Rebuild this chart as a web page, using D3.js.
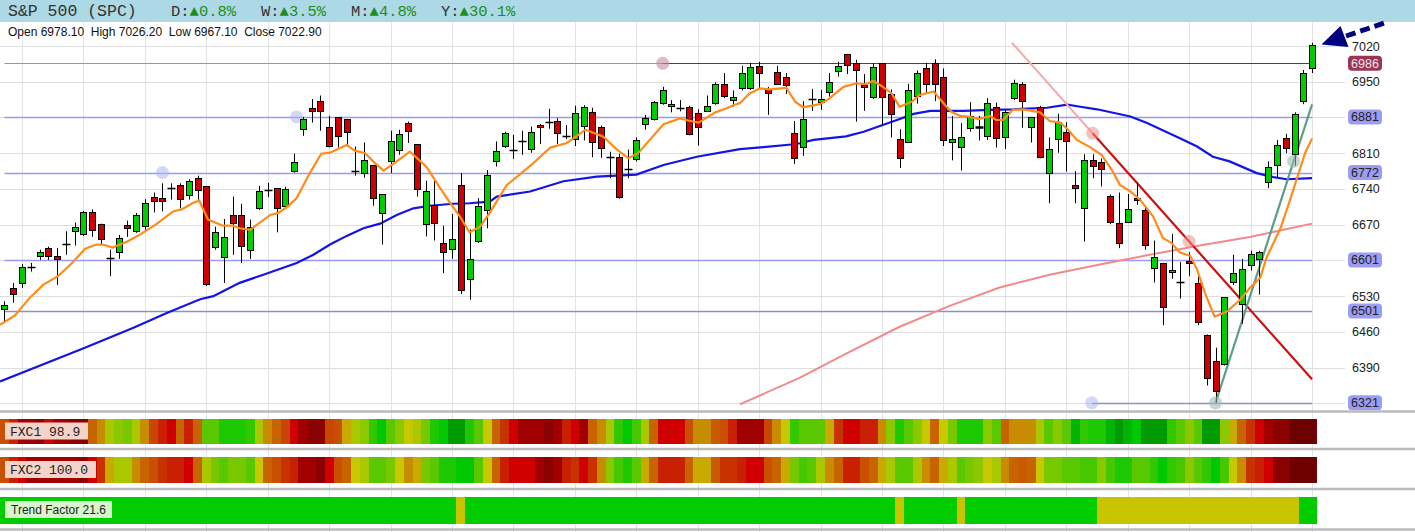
<!DOCTYPE html>
<html><head><meta charset="utf-8">
<script src="https://cdn.jsdelivr.net/npm/d3@7"></script>
<style>body{margin:0;background:#fff;overflow:hidden}svg{display:block}</style>
</head><body><svg id="c" width="1415" height="532"></svg>
<script>
// ---------------- DATA ----------------
const open=[6505,6546,6556,6587,6608,6624,6608,6631,6657,6652,
6695,6672,6605,6617,6669,6657,6666,6725,6722,6740,
6747,6728,6761,6746,6625,6607,6689,6689,6619,6702,
6738,6742,6706,6774,6857,6898,6912,6861,6880,6877,
6775,6772,6787,6693,6794,6816,6869,6828,6671,6709,
6634,6622,6747,6563,6639,6700,6796,6823,6815,6833,
6818,6865,6871,6873,6842,6837,6863,6890,6862,6803,
6802,6778,6798,6867,6877,6908,6902,6899,6900,6888,
6893,6909,6946,6916,6937,6937,6981,6936,6970,6959,
6849,6822,6916,6911,6931,6970,7004,6986,6944,6920,
6986,6926,6837,6833,6921,6976,6986,6959,6833,6822,
6859,6859,6844,6901,6841,6918,6945,6861,6901,6771,
6837,6851,6748,6702,6797,6792,6726,6673,6676,6723,
6698,6585,6595,6578,6557,6599,6556,6454,6403,6397,
6558,6515,6591,6603,6754,6787,6839,6808,6914,6978.1];
const close=[6513,6534,6587,6588,6616,6609,6603,6632,6665,6695,
6660,6642,6604,6644,6664,6689,6712,6718,6717,6741,
6719,6756,6738,6554,6655,6646,6673,6629,6665,6736,
6738.5,6702,6740,6792,6877,6893,6893,6823,6842,6852,
6776,6797,6723,6730,6834,6847,6854,6740,6736,6674,
6617,6642,6541,6603,6707,6768,6815,6849,6816,6834,
6851,6861,6872,6849,6843,6888,6901,6832,6820,6802.5,
6724,6778.5,6836,6878,6910,6933,6906,6899.5,6848,6861,
6903,6946,6923,6921,6967,6978,6967,6929,6947,6943,
6800,6877,6916.5,6916,6950,6980,6983,6973,6940,6978,
6920,6886,6800,6934,6967,6945,6945,6836,6838,6842,
6882,6862,6909,6841,6890,6947,6911,6880,6803,6818,
6871,6834,6742,6797,6785,6779,6675,6634,6701,6719,
6629,6606,6509,6582,6557.5,6595,6479,6370,6344,6528,
6575,6583,6612,6616,6783,6826,6820,6887,6968,7022.9];
const high=[6520,6556,6593,6595,6621,6627,6624,6657,6674,6697,
6700,6672,6621,6650,6678,6693,6720,6733,6751,6751,
6751,6759,6766,6746,6666,6681,6725,6711,6680,6746,
6752,6742,6744,6809,6881,6916,6923,6883,6881,6877,
6823,6831,6787,6730,6854,6856,6872,6828,6756,6756,
6668,6691,6771,6661,6722,6777,6833,6852,6846,6854,
6862,6867,6897,6879,6865,6903,6904,6899,6864,6813,
6809,6817,6841,6885,6912,6940,6914,6914,6903,6896,
6923,6949,6967,6933,6981,6987,6989,6940,6981,6967,
6873,6912,6936,6934,6967,6989,7004,6993,6965,6986,
6986,6935,6857,6946,6972,6987,6994,6976,6883,6869,
6910,6883,6918,6909,6895,6954,6949,6881,6903,6841,
6887,6871,6775,6808,6808,6800,6729,6733,6730,6753,
6706,6639,6595,6652,6597,6616,6574,6455,6429,6528,
6611,6603,6619,6619,6794,6836,6848,6890,6973,7026.2];
const low=[6481,6517,6546,6578,6601,6601,6552,6611,6629,6648,
6646,6631,6569,6603,6646,6654,6660,6694,6696,6719,
6702,6719,6719,6550,6621,6556,6611,6595,6603,6699,
6724,6655,6702,6772,6844,6870,6854,6821,6821,6826,
6766,6762,6707,6631,6771,6807,6830,6725,6647,6639,
6575,6603,6534,6523,6634,6663,6784,6820,6799,6807,
6811,6828,6858,6828,6838,6824,6835,6802,6801,6761,
6721,6761,6794,6856,6874,6905,6890,6892,6845,6825,
6892,6905,6918,6901,6933,6934,6937,6885,6944,6926,
6789,6805,6893,6895,6921,6960,6965,6872,6893,6916,
6865,6841,6781,6831,6907,6926,6912,6824,6796,6776,
6852,6835,6836,6821,6818,6914,6860,6831,6800,6712,
6811,6774,6712,6637,6761,6745,6671,6624,6673,6709,
6621,6557,6473,6564,6525,6569,6473,6355,6321,6394,
6552,6476,6580,6533,6742,6763,6810,6785,6906,6967.1];

// moving averages: [bar index, value]
const fastMA=[[-0.5,6474],[1.2,6492],[2.9,6527],[4.4,6552],[6.1,6569],[7.7,6595],[9.2,6623],[10.5,6631],[11.2,6631],[12.3,6625],[14.0,6637],[15.4,6650],[17.4,6672],[19.2,6696],[20.2,6700],[21.4,6712],[22.2,6717],[23.2,6680],[24.9,6668],[26.0,6668],[26.8,6663],[28.0,6660],[29.1,6674],[30.3,6689],[31.2,6693],[32.3,6706],[33.3,6722],[34.8,6771],[36.1,6809],[37.1,6811],[39.0,6826],[39.9,6815],[41.1,6810],[42.0,6794],[43.2,6776],[44.3,6789],[46.2,6813],[48.1,6783],[49.3,6751],[50.4,6722],[51.9,6686],[53.0,6655],[54.2,6666],[55.3,6693],[57.2,6747],[59.9,6785],[62.2,6821],[64.1,6830],[66.2,6856],[68.2,6843],[69.8,6817],[71.1,6800],[72.2,6810],[73.9,6843],[75.1,6867],[77.0,6878],[77.9,6874],[79.1,6870],[81.0,6890],[82.3,6898],[83.2,6905],[83.8,6908],[84.9,6927],[86.1,6937],[87.2,6935],[89.1,6938],[90.1,6911],[91.0,6900],[92.9,6906],[93.9,6916],[95.6,6940],[97.1,6947],[98.1,6945],[99.0,6952],[100.1,6940],[101.1,6927],[102.0,6901],[103.4,6911],[104.3,6924],[105.9,6931],[107.0,6908],[107.9,6891],[108.9,6883],[110.0,6881],[111.0,6877],[112.3,6883],[113.0,6875],[113.8,6875],[114.9,6895],[116.1,6896],[118.0,6890],[119.1,6873],[120.3,6870],[121.2,6856],[122.2,6836],[123.7,6822],[125.0,6807],[126.2,6777],[127.1,6748],[128.3,6735],[129.4,6719],[130.9,6686],[132.0,6644],[133.0,6634],[133.9,6616],[135.1,6609],[135.9,6582],[136.8,6536],[137.9,6490],[139.3,6500],[140.8,6523],[141.9,6546],[143.1,6566],[143.8,6605],[145.4,6663],[146.5,6719],[148.2,6810],[149.0,6839]];
const midMA=[[-0.5,6363],[8.6,6425],[10.9,6441],[14.7,6468],[18.5,6497],[22.3,6524],[23.8,6530],[26.8,6556],[29.5,6572],[33.3,6595],[35.2,6611],[37.1,6631],[39.0,6648],[40.9,6663],[42.8,6672],[44.7,6689],[46.6,6702],[48.5,6707],[51.1,6711],[53.0,6712],[55.3,6715],[56.1,6725],[59.9,6735],[63.7,6755],[67.5,6764],[72.0,6768],[75.1,6787],[78.9,6803],[83.8,6818],[86.5,6822],[90.3,6828],[92.2,6836],[95.9,6843],[97.9,6852],[101.7,6875],[103.6,6887],[105.5,6893],[109.3,6893],[112.3,6895],[115.0,6896],[118.8,6899],[121.1,6905],[122.6,6901],[124.5,6896],[128.3,6882],[130.2,6869],[134.0,6839],[135.9,6823],[137.7,6803],[139.6,6794],[142.7,6771],[144.6,6763],[146.1,6759],[149.0,6761]];
const slowMA=[[83.8,6318],[90.6,6370],[96.3,6421],[102.0,6470],[107.7,6511],[113.4,6547],[119.1,6572],[124.8,6592],[130.5,6611],[136.2,6629],[141.9,6646],[149.0,6672]];

// horizontal levels
const levels=[6986,6881,6772,6601,6501,6321];
const levelStart=[75,0,0,0,0,123.9];
const tickValues=[7020,6950,6810,6740,6670,6530,6460,6390];
const gridValues=[7020,6950,6880,6810,6740,6670,6600,6530,6460,6390,6320];

// trendline anchors [bar index, value]
const resistA=[124.0,6849], resistB=[135.0,6637];
const resistFrom=114.8, trendTo=149;
const supportA=[138,6321], supportB=[146.9,6794];
const levelDots=[[18,6772],[33.3,6881],[123.9,6321],[75,6986]];

// indicator bands (colour level 0..22 per bar)
const fxc1=[7,4,2,2,1,3,2,2,1,1,
9,10,13,14,15,13,10,6,4,3,
9,4,9,16,16,19,19,19,18,13,
10,9,6,3,2,1,1,6,7,11,
13,14,18,20,16,14,12,13,15,19,
20,22,22,19,16,12,9,5,3,2,
2,2,1,2,4,3,2,9,10,13,
18,20,17,13,9,3,3,3,7,10,
10,8,7,4,2,2,2,6,10,12,
18,16,16,16,11,5,3,3,4,4,
10,14,19,16,14,12,9,12,15,19,
19,19,14,16,9,10,10,10,13,16,
14,16,21,18,19,19,21,22,21,20,
22,22,22,18,16,14,16,22,22,14,
11,9,5,3,2,1,1,0,0,0];
const fxc2=[7,4,3,2,2,2,2,2,2,1,
3,5,11,13,13,10,9,7,5,4,
4,3,9,13,15,16,15,15,16,12,
9,7,5,4,2,2,1,3,7,9,
12,13,16,16,15,12,10,11,15,16,
19,19,20,20,16,12,9,4,3,3,
3,2,1,2,4,5,3,5,10,14,
17,19,16,11,9,4,4,4,9,11,
11,8,5,5,4,3,3,7,9,11,
15,17,16,13,10,9,4,4,7,9,
11,13,16,16,13,10,9,11,13,16,
15,14,12,13,10,9,8,9,12,15,
15,16,16,17,17,14,17,19,19,16,
16,18,20,18,17,14,16,18,20,17,
12,10,5,4,3,1,1,0,0,0];
const trend=[1,1,1,1,1,1,1,1,1,1, 1,1,1,1,1,1,1,1,1,1, 1,1,1,1,1,1,1,1,1,1,
1,1,1,1,1,1,1,1,1,1, 1,1,1,1,1,1,1,1,1,1, 1,1,0,1,1,1,1,1,1,1,
1,1,1,1,1,1,1,1,1,1, 1,1,1,1,1,1,1,1,1,1, 1,1,1,1,1,1,1,1,1,1,
1,1,1,1,1,1,1,1,1,1, 1,1,0,1,1,1,1,1,1,0, 1,1,1,1,1,1,1,1,1,1,
1,1,1,1,1,0,0,0,0,0, 0,0,0,0,0,0,0,0,0,0, 0,0,0,0,0,0,0,0,1,1];

const headerName="S&P 500 (SPC)";
const headerItems=[["D:","▲0.8%"],["W:","▲3.5%"],["M:","▲4.8%"],["Y:","▲30.1%"]];
const ohlcText="Open 6978.10  High 7026.20  Low 6967.10  Close 7022.90";
const bandLabels=["FXC1 98.9","FXC2 100.0","Trend Factor 21.6"];

// ---------------- DRAW ----------------
const heat=["#6e0000","#8b0000","#a00000","#d00000","#c82000","#c83200","#c84600","#c85000","#c85a00","#c86400","#c88c00","#c8aa00","#c8c800","#aac800","#8cc800","#78c800","#5ac800","#46c800","#32c800","#1ec800","#00c800","#00b400","#009a00"];
const heatScale=d3.scaleOrdinal(d3.range(23),heat);
const trendScale=d3.scaleOrdinal([0,1],["#c8c400","#00cc00"]);

const svg=d3.select("#c");
const N=open.length;
const x=d3.scaleLinear().domain([0,N-1]).range([4.45,1312.07]);
const y=d3.scaleLinear().domain([6390,7020]).range([367.6,46]);
const step=x(1)-x(0);

svg.append("rect").attr("width",1415).attr("height",532).attr("fill","#fff");

// vertical grid
const vg=d3.range(2,N,7);
svg.append("g").selectAll("line").data(vg).join("line")
  .attr("x1",d=>Math.round(x(d))+0.5).attr("x2",d=>Math.round(x(d))+0.5)
  .attr("y1",22).attr("y2",532).attr("stroke","#e3e3e3").attr("stroke-width",1);

// horizontal grid
svg.append("g").selectAll("line").data(gridValues).join("line")
  .attr("x1",0).attr("x2",1345)
  .attr("y1",d=>Math.round(y(d))+0.5).attr("y2",d=>Math.round(y(d))+0.5)
  .attr("stroke","#dedede");

// header
svg.append("rect").attr("x",0).attr("y",0).attr("width",1415).attr("height",22).attr("fill","#add8e6");
const mono="'Liberation Mono','DejaVu Sans Mono',monospace";
svg.append("text").attr("x",8).attr("y",16).attr("font-family",mono).attr("font-size",16.5).attr("fill","#333").text(headerName);
const hx=[171,261,351,441];
headerItems.forEach((h,i)=>{
  const t=svg.append("text").attr("x",hx[i]).attr("y",16).attr("font-family",mono).attr("font-size",15.5);
  t.append("tspan").attr("fill","#333").text(h[0]);
  t.append("tspan").attr("fill","#1e8c1e").text(h[1]);
});
svg.append("text").attr("x",8).attr("y",36).attr("font-family","'Liberation Sans',Arial,sans-serif").attr("font-size",12).attr("fill","#111").style("white-space","pre").text(ohlcText);

// clip
svg.append("clipPath").attr("id","pc").append("rect").attr("x",0).attr("y",22).attr("width",1318).attr("height",388);
const plot=svg.append("g").attr("clip-path","url(#pc)");

// level lines
plot.append("line").attr("x1",x(0)).attr("x2",x(trendTo)).attr("y1",Math.round(y(6986))+0.5).attr("y2",Math.round(y(6986))+0.5).attr("stroke","#a8909c").attr("stroke-width",1);
const levelColor=["#7a2a48","#9a9af0","#9a9af0","#9a9af0","#8e8ec8","#8e8ec8"];
levels.forEach((v,i)=>{
  plot.append("line").attr("x1",x(levelStart[i])).attr("x2",x(trendTo))
    .attr("y1",Math.round(y(v))+0.5).attr("y2",Math.round(y(v))+0.5)
    .attr("stroke",levelColor[i]).attr("stroke-width",i===0?1:1.4);
});

// dots on levels
levelDots.forEach((d,i)=>{
  plot.append("circle").attr("cx",x(d[0])).attr("cy",y(d[1])).attr("r",6.5)
   .attr("fill",i===3?"#c88aa0":"#aab0f0").attr("opacity",i===3?0.6:0.5);
});

// moving averages
const ln=d3.line().x(d=>x(d[0])).y(d=>y(d[1]));
plot.append("path").attr("d",ln(slowMA)).attr("fill","none").attr("stroke","#f28a8a").attr("stroke-width",2);
plot.append("path").attr("d",ln(midMA)).attr("fill","none").attr("stroke","#1414e6").attr("stroke-width",2.2);

// trendlines
const rv=i=>resistA[1]+(i-resistA[0])*(resistB[1]-resistA[1])/(resistB[0]-resistA[0]);
plot.append("line").attr("x1",x(resistFrom)).attr("y1",y(rv(resistFrom))).attr("x2",x(resistA[0])).attr("y2",y(rv(resistA[0])))
  .attr("stroke","#f4a8a8").attr("stroke-width",2);
plot.append("line").attr("x1",x(resistA[0])).attr("y1",y(rv(resistA[0]))).attr("x2",x(trendTo)).attr("y2",y(rv(trendTo)))
  .attr("stroke","#cc1111").attr("stroke-width",2.2);
const sv=i=>supportA[1]+(i-supportA[0])*(supportB[1]-supportA[1])/(supportB[0]-supportA[0]);
plot.append("line").attr("x1",x(supportA[0])).attr("y1",y(sv(supportA[0]))).attr("x2",x(trendTo)).attr("y2",y(sv(trendTo)))
  .attr("stroke","#5e9e88").attr("stroke-width",2.2);

// candles
const g=plot.append("g");
d3.range(N).forEach(i=>{
  const cx=Math.round(x(i))+0.5;
  g.append("line").attr("x1",cx).attr("x2",cx).attr("y1",y(high[i])).attr("y2",y(low[i])).attr("stroke","#000").attr("stroke-width",1);
  const yo=y(open[i]), yc=y(close[i]);
  const top=Math.min(yo,yc), h=Math.abs(yo-yc);
  if(h<1.6){
    g.append("line").attr("x1",cx-4).attr("x2",cx+4).attr("y1",Math.round(top)+0.5).attr("y2",Math.round(top)+0.5).attr("stroke","#000").attr("stroke-width",h<1?1.5:2.5);
  } else {
    g.append("rect").attr("x",cx-3).attr("width",6).attr("y",Math.round(top)+0.5).attr("height",Math.max(1,Math.round(h)))
      .attr("fill",close[i]>=open[i]?"#00cc00":"#cc0000").attr("stroke","#000").attr("stroke-width",1);
  }
});

// fast MA on top
plot.append("path").attr("d",ln(fastMA)).attr("fill","none").attr("stroke","#ff8c1a").attr("stroke-width",2.2);

// trend dots
[resistA,resistB].forEach(d=>plot.append("circle").attr("cx",x(d[0])).attr("cy",y(d[1])).attr("r",6.5).attr("fill","#f08c8c").attr("opacity",0.55));
[supportA,supportB].forEach(d=>plot.append("circle").attr("cx",x(d[0])).attr("cy",y(d[1])).attr("r",6.5).attr("fill","#9cbab0").attr("opacity",0.6));

// right axis labels
const sans="'Liberation Sans',Arial,sans-serif";
svg.append("g").selectAll("text").data(tickValues).join("text")
  .attr("x",1352).attr("y",d=>y(d)+4.5).attr("font-family",sans).attr("font-size",12.5).attr("fill","#222").text(d=>d);
levels.forEach((v,i)=>{
  svg.append("rect").attr("x",1348).attr("y",y(v)-7.5).attr("width",34).attr("height",15).attr("rx",4)
    .attr("fill",i===0?"#9a3558":"#9c9cf2");
  svg.append("text").attr("x",1365).attr("y",y(v)+4.5).attr("text-anchor","middle").attr("font-family",sans).attr("font-size",12.5)
    .attr("fill",i===0?"#f4e4ea":"#222").text(v);
});

// arrow
svg.append("path").attr("d","M1321.5,44.5 L1340.5,26 L1348.5,47 Z").attr("fill","#000080");
svg.append("line").attr("x1",1346).attr("y1",36).attr("x2",1386).attr("y2",22.5).attr("stroke","#000080").attr("stroke-width",5).attr("stroke-dasharray","10,5");

// separators
[411.5,449,489,529.5].forEach(yy=>svg.append("line").attr("x1",0).attr("x2",1415).attr("y1",yy).attr("y2",yy).attr("stroke","#bbbbbb").attr("stroke-width",2.6));

// bands
const bands=[{d:fxc1,y0:419,h:24.5,c:heatScale},{d:fxc2,y0:456.5,h:26,c:heatScale},{d:trend,y0:497,h:26.5,c:trendScale}];
bands.forEach(b=>{
  svg.append("g").selectAll("rect").data(b.d).join("rect")
    .attr("x",(d,i)=>x(i)-step/2).attr("width",step+0.3).attr("y",b.y0).attr("height",b.h)
    .attr("fill",d=>b.c(d)).attr("shape-rendering","crispEdges");
});
// band labels
const lb=[{t:bandLabels[0],y:422.5,w:83,f:"#f5d3ca",font:mono,fs:13},{t:bandLabels[1],y:461,w:91,f:"#f5d3ca",font:mono,fs:13},{t:bandLabels[2],y:501,w:107,f:"#d6f5cc",font:sans,fs:12}];
lb.forEach(l=>{
  svg.append("rect").attr("x",5).attr("y",l.y).attr("width",l.w).attr("height",17).attr("fill",l.f);
  svg.append("text").attr("x",l.font===mono?10:11).attr("y",l.y+13).attr("font-family",l.font).attr("font-size",l.fs).attr("fill","#222").text(l.t);
});
</script></body></html>
